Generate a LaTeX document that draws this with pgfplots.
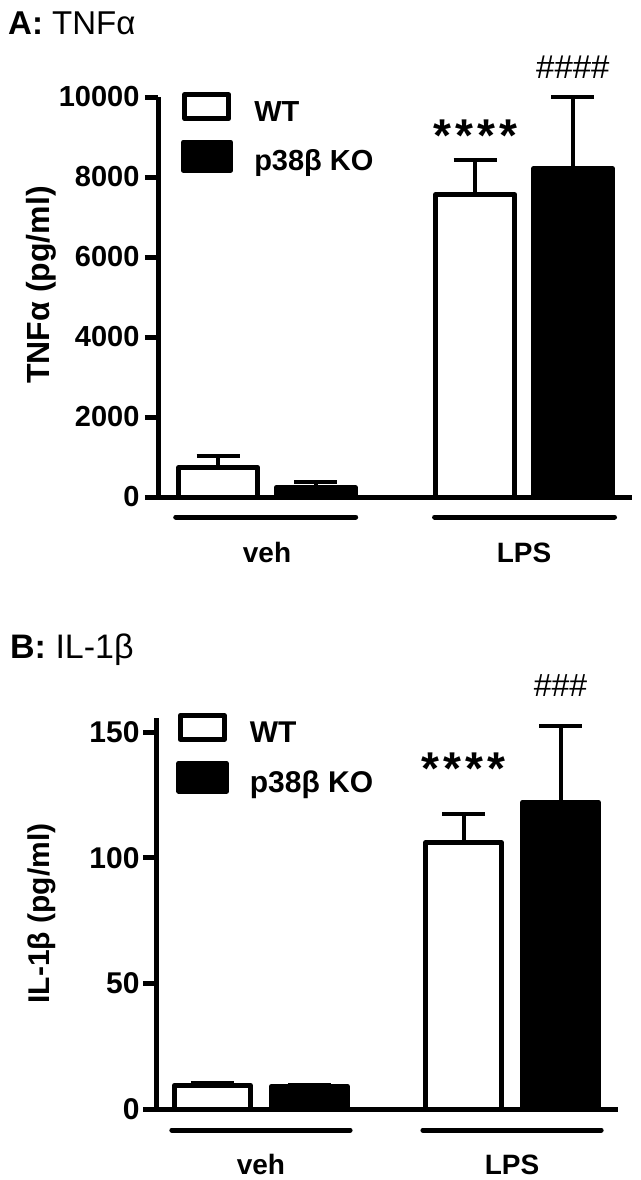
\documentclass[border=0pt]{standalone}
\usepackage{fontspec}
\setmainfont{Liberation Sans}
\usepackage{pgfplots}
\pgfplotsset{compat=1.18}
\pgfplotsset{
  panel/.style={
    scale only axis, clip=false, ybar, enlargelimits=false,
    scaled y ticks=false,
    axis x line=bottom, axis y line=left,
    axis line style={-, line width=5pt, black},
    tick style={line width=5pt, black},
    major tick length=13pt, tick align=outside,
    xtick={1,2}, xticklabels={veh,LPS},
    xtick style={draw=none},
    xticklabel style={anchor=base, yshift=-52pt, font=\bfseries\fontsize{28}{30}\selectfont},
    ylabel style={anchor=center},
    legend cell align=left,
    legend style={draw=none, fill=none, inner sep=0pt, outer sep=0pt, anchor=north west,
      nodes={inner sep=0pt}, row sep=8pt,
      /tikz/every odd column/.append style={column sep=21pt}},
  },
  wtbar/.style={fill=white, draw=black, line width=5pt, line join=round,
    legend image code/.code={\draw[black, fill=white, line width=5pt] (0pt,-2pt) rectangle (44pt,22pt);},
    error bars/y dir=plus, error bars/y explicit,
    error bars/error bar style={line width=4pt, black},
    error bars/error mark options={black, line width=4pt, mark size=21.5pt, rotate=90}},
  kobar/.style={fill=black, draw=black, line width=5pt, line join=round,
    legend image code/.code={\draw[black, fill=black, line width=5pt] (-1.5pt,-4pt) rectangle (46pt,24pt);},
    error bars/y dir=plus, error bars/y explicit,
    error bars/error bar style={line width=4pt, black},
    error bars/error mark options={black, line width=4pt, mark size=21.5pt, rotate=90}},
}
\newcommand{\stars}{*\kern4pt*\kern4pt*\kern4pt*}
\begin{document}
\begin{tikzpicture}
\useasboundingbox (0pt,0pt) rectangle (640pt,-1180pt);
% Panel titles
\node[anchor=base west, inner sep=0pt, font=\fontsize{33}{35}\selectfont] at (8pt,-35pt) {\textbf{A:} TNFα};
\node[anchor=base west, inner sep=0pt, font=\fontsize{34}{36}\selectfont] at (10pt,-658pt) {\textbf{B:} IL-1β};

% Panel A
\begin{axis}[panel,
  at={(158pt,-497pt)}, anchor=south west,
  width=474pt, height=400pt,
  xmin=0.576, xmax=2.42, ymin=0, ymax=10000,
  bar width=0.307,
  ytick={0,2000,4000,6000,8000,10000},
  yticklabels={0,2000,4000,6000,8000,10000},
  yticklabel style={font=\bfseries\fontsize{29}{31}\selectfont, xshift=-2pt},
  ylabel={TNFα (pg/ml)},
  ylabel style={at={(axis description cs:-0.246,0.53)}, font=\bfseries\fontsize{32}{34}\selectfont},
  legend style={at={(axis description cs:0.048,1.012)},
    font=\bfseries\fontsize{29}{31}\selectfont},
]
\addplot[wtbar, bar shift=-0.19] coordinates {(1,740) +- (0,285) (2,7560) +- (0,865)};
\addplot[kobar, bar shift=0.19] coordinates {(1,240) +- (0,135) (2,8210) +- (0,1800)};
\legend{\raisebox{8.5pt}{WT}, \raisebox{10.5pt}{p38β KO}}
\draw[line width=5pt, line cap=round] ([yshift=-20pt]axis cs:0.645,0) -- ([yshift=-20pt]axis cs:1.345,0);
\draw[line width=5pt, line cap=round] ([yshift=-20pt]axis cs:1.652,0) -- ([yshift=-20pt]axis cs:2.352,0);
\node[anchor=base, inner sep=0pt, font=\bfseries\fontsize{46}{46}\selectfont] at (axis cs:1.81,8650) {\stars};
\node[anchor=base, inner sep=0pt, font=\fontsize{33}{33}\selectfont] at (axis cs:2.19,10475) {\#\#\#\#};
\end{axis}

% Panel B
\begin{axis}[panel,
  at={(156pt,-1109pt)}, anchor=south west,
  width=462pt, height=391pt,
  xmin=0.582, xmax=2.422, ymin=0, ymax=155.6,
  bar width=0.303,
  ytick={0,50,100,150},
  yticklabels={0,50,100,150},
  yticklabel style={font=\bfseries\fontsize{30}{32}\selectfont},
  ylabel={IL-1β (pg/ml)},
  ylabel style={at={(axis description cs:-0.247,0.5)}, font=\bfseries\fontsize{30}{32}\selectfont},
  legend style={at={(axis description cs:0.044,1.013)},
    font=\bfseries\fontsize{30}{32}\selectfont},
]
\addplot[wtbar, bar shift=-0.193] coordinates {(1,9.4) +- (0,0.8) (2,106) +- (0,11.4)};
\addplot[kobar, bar shift=0.193] coordinates {(1,9.0) +- (0,0.4) (2,122) +- (0,30.4)};
\legend{\raisebox{8.5pt}{WT}, \raisebox{10.5pt}{p38β KO}}
\draw[line width=5pt, line cap=round] ([yshift=-21pt]axis cs:0.645,0) -- ([yshift=-21pt]axis cs:1.355,0);
\draw[line width=5pt, line cap=round] ([yshift=-21pt]axis cs:1.645,0) -- ([yshift=-21pt]axis cs:2.355,0);
\node[anchor=base, inner sep=0pt, font=\bfseries\fontsize{46}{46}\selectfont] at (axis cs:1.807,129) {\stars};
\node[anchor=base, inner sep=0pt, font=\fontsize{32}{32}\selectfont] at (axis cs:2.193,164) {\#\#\#};
\end{axis}
\end{tikzpicture}
\end{document}
